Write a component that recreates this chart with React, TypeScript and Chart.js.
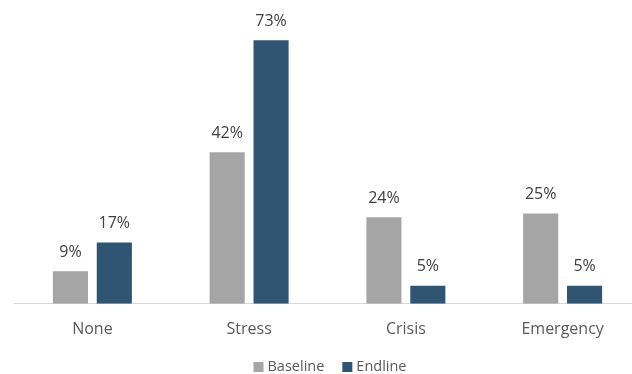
import React, { useEffect, useRef } from "react";
import { Chart, registerables } from "chart.js";

Chart.register(...registerables);

const categories = ["None", "Stress", "Crisis", "Emergency"];
const baseline = [9, 42, 24, 25];
const endline = [17, 73, 5, 5];
const seriesNames = ["Baseline", "Endline"];
const seriesColors = ["#A5A5A5", "#2F5573"];

const FONT = "'Open Sans', 'Noto Sans', sans-serif";

const valueLabels = {
  id: "valueLabels",
  afterDatasetsDraw(chart: any) {
    const ctx = chart.ctx;
    ctx.save();
    ctx.font = `16px ${FONT}`;
    ctx.fillStyle = "#404040";
    ctx.textAlign = "center";
    ctx.textBaseline = "middle";
    chart.data.datasets.forEach((ds: any, i: number) => {
      const meta = chart.getDatasetMeta(i);
      meta.data.forEach((bar: any, j: number) => {
        ctx.fillText(`${ds.data[j]}%`, bar.x, bar.y - 19);
      });
    });
    ctx.restore();
  },
};

const customLegend = {
  id: "customLegend",
  afterDraw(chart: any) {
    const ctx = chart.ctx;
    ctx.save();
    ctx.font = `14.5px ${FONT}`;
    ctx.textBaseline = "middle";
    ctx.textAlign = "left";
    const box = 10;
    const gapText = 4;
    const gapItem = 18;
    const items = chart.data.datasets.map((ds: any) => ({
      label: ds.label,
      color: ds.backgroundColor,
      w: box + gapText + ctx.measureText(ds.label).width,
    }));
    const total = items.reduce((s: number, it: any) => s + it.w, 0) + gapItem * (items.length - 1);
    let x = 330 - total / 2;
    const y = 367;
    items.forEach((it: any) => {
      ctx.fillStyle = it.color;
      ctx.fillRect(x, y - box / 2, box, box);
      ctx.fillStyle = "#595959";
      ctx.fillText(it.label, x + box + gapText, y);
      x += it.w + gapItem;
    });
    ctx.restore();
  },
};

export default function App() {
  const ref = useRef<HTMLCanvasElement>(null);
  useEffect(() => {
    if (!ref.current) return;
    const chart = new Chart(ref.current, {
      type: "bar",
      data: {
        labels: categories,
        datasets: [
          { label: seriesNames[0], data: baseline, backgroundColor: seriesColors[0] },
          { label: seriesNames[1], data: endline, backgroundColor: seriesColors[1] },
        ],
      },
      options: {
        animation: false,
        responsive: false,
        maintainAspectRatio: false,
        layout: { padding: { left: 14, right: 4, top: 15, bottom: 27 } },
        datasets: { bar: { barPercentage: 0.8, categoryPercentage: 0.56 } } as any,
        scales: {
          y: { display: false, min: 0, max: 80 },
          x: {
            grid: { display: false },
            border: { color: "#D9D9D9", width: 1 },
            ticks: { color: "#595959", font: { family: FONT, size: 16 }, padding: 8 },
          },
        },
        plugins: {
          tooltip: { enabled: false },
          legend: { display: false },
        },
      },
      plugins: [valueLabels, customLegend],
    });
    return () => chart.destroy();
  }, []);
  return (
    <div style={{ position: "fixed", left: 0, top: 0, width: 632, height: 374, overflow: "hidden", background: "#fff" }}>
      <canvas ref={ref} width={645} height={374} style={{ width: 645, height: 374 }} />
    </div>
  );
}
